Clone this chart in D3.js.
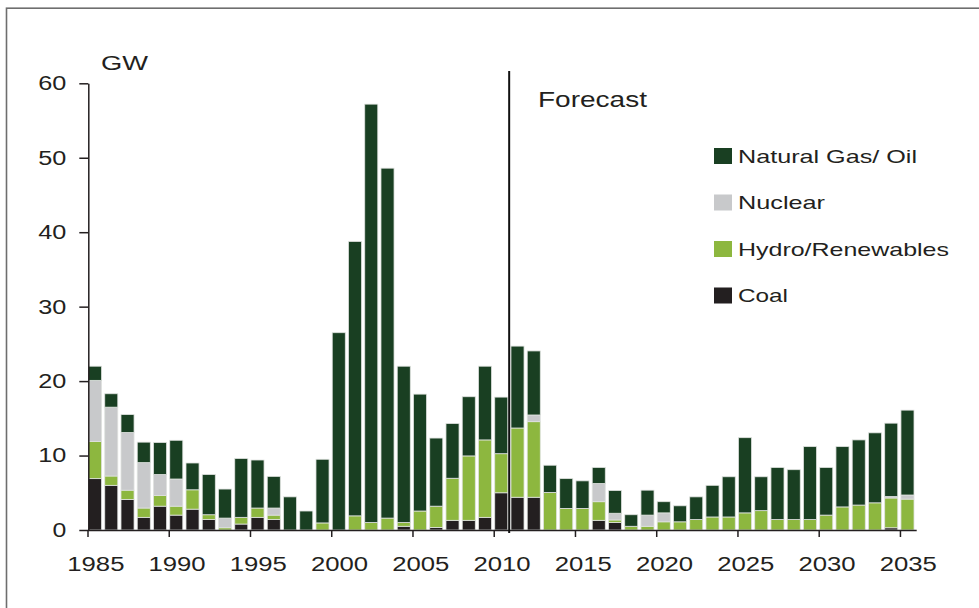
<!DOCTYPE html>
<html>
<head>
<meta charset="utf-8">
<script src="https://cdn.jsdelivr.net/npm/d3@7"></script>
<style>
  html, body { margin: 0; padding: 0; background: #fff; }
  svg { display: block; }
  text { font-family: "Liberation Sans", Arial, sans-serif; fill: #231f20; }
</style>
</head>
<body>
<svg id="chart" width="979" height="608"></svg>
<script>
// Annual capacity additions, GW, by fuel type (2011 onward is forecast)
const years = d3.range(1985, 2036);

const coal = [
  6.9, 6.0, 4.1, 1.7, 3.2, 2.0, 2.8, 1.4, 0.0, 0.8,
  1.7, 1.4, 0.0, 0.0, 0.0, 0.0, 0.0, 0.0, 0.0, 0.5,
  0.0, 0.35, 1.3, 1.3, 1.7, 5.0, 4.4, 4.4, 0.0, 0.0,
  0.0, 1.3, 1.0, 0.0, 0.0, 0.0, 0.0, 0.0, 0.0, 0.0,
  0.0, 0.0, 0.0, 0.0, 0.0, 0.0, 0.0, 0.0, 0.0, 0.3,
  0.0
];
const hydro = [
  5.0, 1.25, 1.25, 1.25, 1.45, 1.2, 2.6, 0.65, 0.3, 0.9,
  1.25, 0.6, 0.0, 0.0, 0.95, 0.0, 1.9, 1.0, 1.6, 0.5,
  2.55, 2.85, 5.65, 8.65, 10.4, 5.25, 9.3, 10.15, 5.05, 2.9,
  2.9, 2.5, 0.35, 0.5, 0.5, 1.1, 1.1, 1.4, 1.75, 1.75,
  2.3, 2.6, 1.4, 1.4, 1.4, 2.0, 3.1, 3.35, 3.65, 4.0,
  4.15
];
const nuclear = [
  8.2, 9.25, 7.75, 6.1, 2.8, 3.65, 0.0, 0.0, 1.3, 0.0,
  0.0, 0.95, 0.0, 0.0, 0.0, 0.0, 0.0, 0.0, 0.0, 0.0,
  0.0, 0.0, 0.0, 0.0, 0.0, 0.0, 0.0, 0.9, 0.0, 0.0,
  0.0, 2.45, 0.9, 0.0, 1.5, 1.2, 0.0, 0.0, 0.0, 0.0,
  0.0, 0.0, 0.0, 0.0, 0.0, 0.0, 0.0, 0.0, 0.0, 0.2,
  0.55
];
const gasOil = [
  1.9, 1.8, 2.4, 2.75, 4.3, 5.2, 3.6, 5.4, 3.9, 7.9,
  6.45, 4.25, 4.45, 2.55, 8.55, 26.5, 36.85, 56.2, 47.0, 21.0,
  15.7, 9.15, 7.35, 7.95, 9.9, 7.6, 11.0, 8.6, 3.65, 4.0,
  3.7, 2.15, 3.05, 1.55, 3.35, 1.5, 2.15, 3.05, 4.25, 5.4,
  10.1, 4.55, 7.0, 6.7, 9.8, 6.4, 8.1, 8.75, 9.4, 9.85,
  11.4
];

const yTicks = [0, 10, 20, 30, 40, 50, 60];
const xTicks = [1985, 1990, 1995, 2000, 2005, 2010, 2015, 2020, 2025, 2030, 2035];
const forecastStart = 2011;

const seriesKeys = ["coal", "hydro", "nuclear", "gasOil"];
const seriesNames = {
  gasOil: "Natural Gas/ Oil",
  nuclear: "Nuclear",
  hydro: "Hydro/Renewables",
  coal: "Coal"
};
const colors = {
  gasOil: "#193f22",
  nuclear: "#c8c9cb",
  hydro: "#8db73f",
  coal: "#231f20"
};

const table = years.map((yr, i) => ({
  year: yr, coal: coal[i], hydro: hydro[i], nuclear: nuclear[i], gasOil: gasOil[i]
}));

const svg = d3.select("#chart");

// outer frame
svg.append("rect")
  .attr("x", 6.5).attr("y", 8.2)
  .attr("width", 1000).attr("height", 700)
  .attr("fill", "none").attr("stroke", "#6e6e6e").attr("stroke-width", 1.6);

const x = d3.scaleLinear().domain([1985, 2036]).range([87.5, 916.2]);
const y = d3.scaleLinear().domain([0, 60]).range([530, 83.3]);
const step = x(1986) - x(1985);

const stacked = d3.stack().keys(seriesKeys)(table);

// bars
const layers = svg.append("g").selectAll("g")
  .data(stacked).join("g")
  .attr("fill", d => colors[d.key]);

layers.selectAll("rect")
  .data(d => d.filter(p => p[1] - p[0] > 0))
  .join("rect")
  .attr("x", p => x(p.data.year) + 1)
  .attr("width", step - 3.2)
  .attr("y", p => y(p[1]))
  .attr("height", p => y(p[0]) - y(p[1]))
  .attr("stroke", "#dfe2df")
  .attr("stroke-width", 0.8);

const charW = 14.3; // rendered digit width

// y axis
const yAxis = svg.append("g")
  .attr("transform", `translate(${x(1985) + 0.8},0)`)
  .call(d3.axisLeft(y).tickValues(yTicks).tickSize(9).tickSizeOuter(0).tickPadding(13));
yAxis.selectAll("text")
  .style("font-size", "20px")
  .attr("textLength", d => String(d).length * charW - 0.5)
  .attr("lengthAdjust", "spacingAndGlyphs");

// x axis
const xAxis = svg.append("g")
  .attr("transform", `translate(0,${y(0)})`)
  .call(d3.axisBottom(x).tickValues(xTicks).tickFormat(d3.format("d")).tickSize(7).tickSizeOuter(0));
xAxis.selectAll("text")
  .style("font-size", "20px")
  .attr("x", step / 2 - 0.3)
  .attr("y", 41).attr("dy", 0)
  .attr("textLength", d => String(d).length * charW)
  .attr("lengthAdjust", "spacingAndGlyphs");

svg.selectAll(".domain, .tick line")
  .attr("stroke", "#231f20").attr("stroke-width", 1.5);

// forecast divider
svg.append("line")
  .attr("x1", x(forecastStart) - 0.8).attr("x2", x(forecastStart) - 0.8)
  .attr("y1", 71).attr("y2", y(0) + 3)
  .attr("stroke", "#111").attr("stroke-width", 2);

svg.append("text")
  .attr("x", 538).attr("y", 107)
  .style("font-size", "22px")
  .attr("textLength", 109).attr("lengthAdjust", "spacingAndGlyphs")
  .text("Forecast");

svg.append("text")
  .attr("x", 101).attr("y", 70)
  .style("font-size", "21px")
  .attr("textLength", 47).attr("lengthAdjust", "spacingAndGlyphs")
  .text("GW");

// legend
const legendKeys = ["gasOil", "nuclear", "hydro", "coal"];
const legendWidths = { gasOil: 179, nuclear: 87, hydro: 211, coal: 50 };
const legend = svg.append("g").selectAll("g")
  .data(legendKeys).join("g")
  .attr("transform", (d, i) => `translate(714,${162.5 + i * 46.5})`);
legend.append("rect")
  .attr("x", 0).attr("y", -14.5)
  .attr("width", 18).attr("height", 16)
  .attr("fill", d => colors[d]);
legend.append("text")
  .attr("x", 24).attr("y", 0)
  .style("font-size", "19px")
  .attr("textLength", d => legendWidths[d]).attr("lengthAdjust", "spacingAndGlyphs")
  .text(d => seriesNames[d]);
</script>
</body>
</html>
